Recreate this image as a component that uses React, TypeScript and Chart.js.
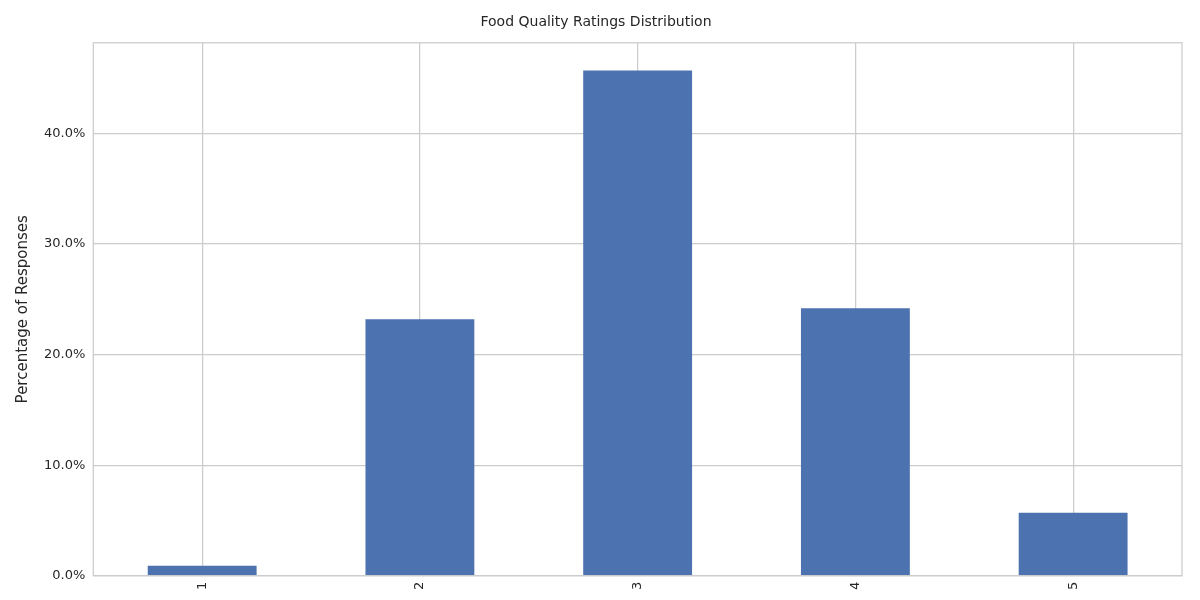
import React, { useEffect, useRef } from 'react';
import { Chart, registerables } from 'chart.js';

Chart.register(...registerables);

const ratings = ['1', '2', '3', '4', '5'];
const percentages = [0.9, 23.2, 45.7, 24.2, 5.7];
const yTicks = [0, 10, 20, 30, 40];

const frameBox = {
  id: 'frameBox',
  afterDraw(chart: Chart) {
    const { ctx, chartArea } = chart;
    ctx.save();
    ctx.strokeStyle = '#cccccc';
    ctx.lineWidth = 1.25;
    ctx.strokeRect(chartArea.left, chartArea.top, chartArea.right - chartArea.left, chartArea.bottom - chartArea.top);
    ctx.restore();
  },
};

const App: React.FC = () => {
  const chartRef = useRef<HTMLCanvasElement>(null);

  useEffect(() => {
    document.body.style.margin = '0';
    if (!chartRef.current) return;
    const chart = new Chart(chartRef.current, {
      type: 'bar',
      data: {
        labels: ratings,
        datasets: [{
          data: percentages,
          backgroundColor: '#4c72b0',
          barPercentage: 0.5,
          categoryPercentage: 1,
        }],
      },
      options: {
        animation: false,
        responsive: false,
        layout: { padding: { left: 10, right: 18, top: 4, bottom: 4 } },
        plugins: {
          legend: { display: false },
          tooltip: { enabled: false },
          title: {
            display: true,
            text: 'Food Quality Ratings Distribution',
            color: '#262626',
            font: { family: 'DejaVu Sans', size: 14, weight: 'normal' },
            padding: { top: 10, bottom: 12 },
          },
        },
        scales: {
          x: {
            offset: true,
            grid: { offset: false, color: '#cccccc', lineWidth: 1.25, drawTicks: false },
            border: { display: false },
            ticks: {
              color: '#262626',
              font: { family: 'DejaVu Sans', size: 13 },
              maxRotation: 90,
              minRotation: 90,
              padding: 6,
            },
          },
          y: {
            min: 0,
            max: 48.2,
            afterBuildTicks: (axis: any) => { axis.ticks = yTicks.map(v => ({ value: v })); },
            grid: { color: '#cccccc', lineWidth: 1.25, drawTicks: false },
            border: { display: false },
            title: {
              display: true,
              text: 'Percentage of Responses',
              color: '#262626',
              font: { family: 'DejaVu Sans', size: 15 },
            },
            ticks: {
              color: '#262626',
              font: { family: 'DejaVu Sans', size: 13 },
              padding: 8,
              callback: (v: any) => `${Number(v).toFixed(1)}%`,
            },
          },
        },
      },
      plugins: [frameBox],
    });
    return () => chart.destroy();
  }, []);

  return <canvas ref={chartRef} width={1200} height={600} style={{ display: 'block' }} />;
};

export default App;
